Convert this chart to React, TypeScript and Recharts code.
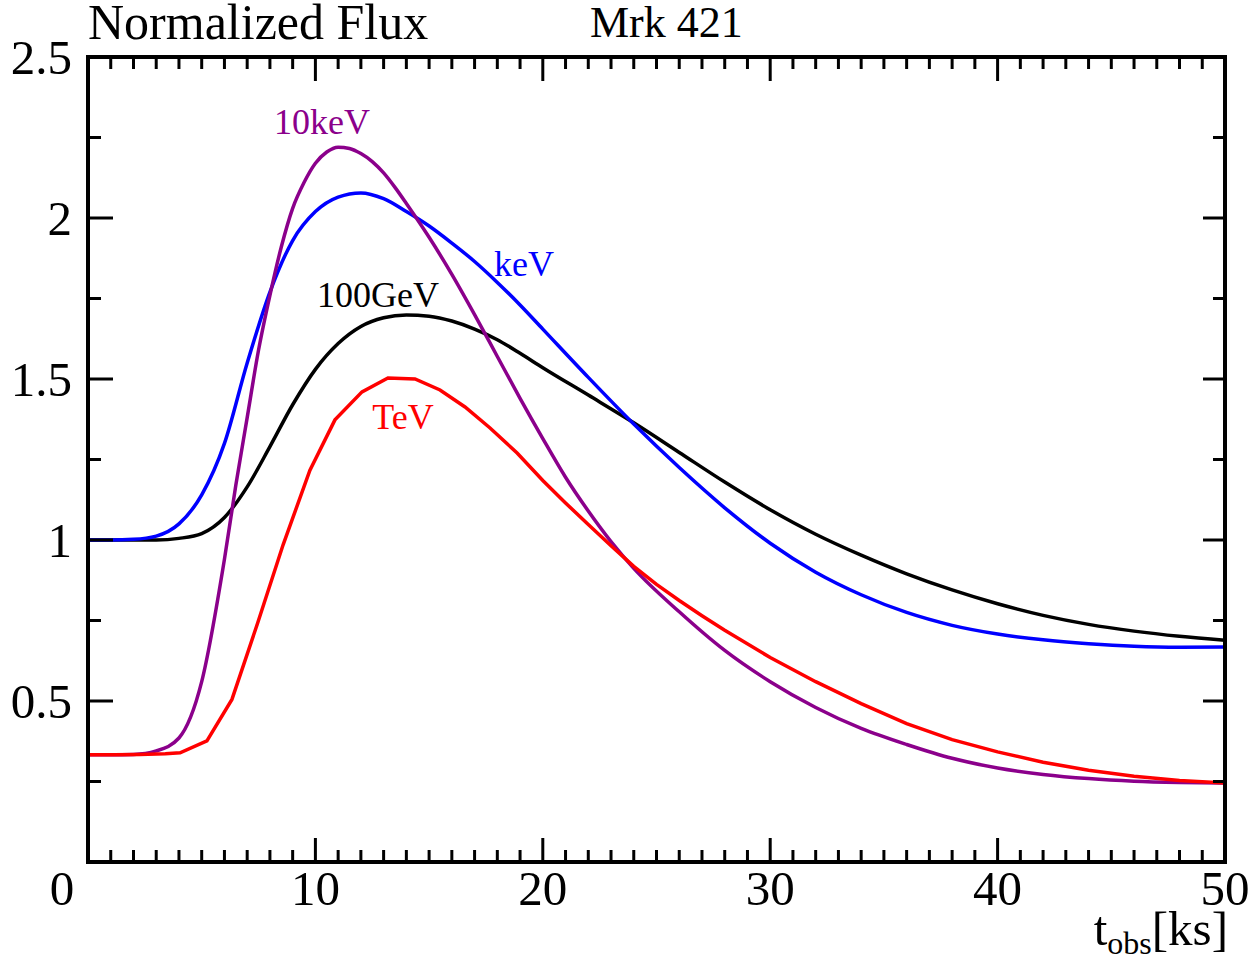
import React from 'react'
import { LineChart, Line, XAxis, YAxis, ReferenceDot } from 'recharts'

const W = 1258
const H = 959
const FONT = '"Liberation Serif", "Times New Roman", serif'

// keV (blue)
const tKeV = [0, 1, 2, 3, 4, 5, 6, 7, 8, 9, 10, 11, 12, 13, 14, 15, 16, 17, 18, 19, 20, 22, 24, 26, 28, 30, 32, 34, 36, 38, 40, 42, 44, 46, 48, 50]
const fKeV = [1.0, 1.0, 1.002, 1.012, 1.05, 1.14, 1.3, 1.55, 1.77, 1.93, 2.02, 2.065, 2.078, 2.06, 2.02, 1.975, 1.922, 1.865, 1.8, 1.73, 1.655, 1.505, 1.36, 1.225, 1.1, 0.99, 0.9, 0.83, 0.775, 0.735, 0.708, 0.69, 0.678, 0.67, 0.667, 0.668]

// 100GeV (black)
const tGeV = [0, 1, 2, 3, 4, 5, 6, 7, 8, 9, 10, 11, 12, 13, 14, 15, 16, 17, 18, 19, 20, 22, 24, 26, 28, 30, 32, 34, 36, 38, 40, 42, 44, 46, 48, 50]
const fGeV = [1.0, 1.0, 1.0, 1.0, 1.005, 1.02, 1.07, 1.165, 1.29, 1.42, 1.53, 1.61, 1.663, 1.69, 1.699, 1.695, 1.68, 1.655, 1.622, 1.58, 1.535, 1.45, 1.364, 1.272, 1.18, 1.094, 1.018, 0.953, 0.895, 0.845, 0.802, 0.766, 0.738, 0.717, 0.701, 0.689]

// 10keV (purple)
const t10keV = [0, 1, 2, 3, 4, 5, 6, 6.5, 7, 7.5, 8, 8.5, 9, 9.5, 10, 10.5, 11, 11.5, 12, 12.5, 13, 13.5, 14, 15, 16, 17, 18, 19, 20, 21, 22, 23, 24, 26, 28, 30, 32, 34, 36, 38, 40, 42, 44, 46, 48, 50]
const f10keV = [0.333, 0.333, 0.334, 0.345, 0.385, 0.56, 0.94, 1.17, 1.38, 1.59, 1.76, 1.91, 2.03, 2.11, 2.17, 2.205, 2.22, 2.216, 2.2, 2.175, 2.14, 2.095, 2.045, 1.94, 1.825, 1.7, 1.57, 1.44, 1.315, 1.195, 1.09, 0.995, 0.912, 0.777, 0.657, 0.56, 0.48, 0.415, 0.365, 0.322, 0.292, 0.272, 0.259, 0.251, 0.247, 0.245]

// TeV (red, coarse sampling)
const tTeV = [0, 1.13, 2.27, 3.4, 4.05, 5.23, 6.33, 7.45, 8.58, 9.76, 10.86, 12.05, 13.19, 14.38, 15.48, 16.58, 17.68, 18.87, 20, 21, 22, 23, 24, 25, 26, 27, 28, 30, 32, 34, 36, 38, 40, 42, 44, 46, 48, 50]
const fTeV = [0.333, 0.333, 0.334, 0.336, 0.339, 0.376, 0.505, 0.74, 0.985, 1.217, 1.373, 1.46, 1.503, 1.5, 1.466, 1.413, 1.348, 1.27, 1.185, 1.115, 1.048, 0.982, 0.918, 0.862, 0.812, 0.765, 0.72, 0.635, 0.56, 0.492, 0.43, 0.38, 0.342, 0.31, 0.285, 0.266, 0.253, 0.245]

const xTicks = Array.from({ length: 51 }, (_, i) => i)
const yTicks = Array.from({ length: 11 }, (_, i) => i * 0.25)

const zip = (t: number[], f: number[]) => t.map((v, i) => ({ t: v, f: f[i] }))

const isMajorX = (v: number) => v % 10 === 0
const isMajorY = (v: number) => Math.round(v * 4) % 2 === 0

const BottomTick = ({ x, y, payload }: any) => {
  const v = payload.value
  const major = isMajorX(v)
  return (
    <g>
      <line x1={x} x2={x} y1={y} y2={y - (major ? 24 : 12)} stroke="#000" strokeWidth={3} />
      {major && (
        <text x={v === 0 ? x - 26 : x} y={y + 43} textAnchor="middle" fontSize={49} fontFamily={FONT} fill="#000">
          {v}
        </text>
      )}
    </g>
  )
}

const TopTick = ({ x, y, payload }: any) => {
  const major = isMajorX(payload.value)
  return <line x1={x} x2={x} y1={y} y2={y + (major ? 24 : 12)} stroke="#000" strokeWidth={3} />
}

const LeftTick = ({ x, y, payload }: any) => {
  const v = payload.value
  const major = isMajorY(v)
  return (
    <g>
      <line x1={x} x2={x + (major ? 25 : 13)} y1={y} y2={y} stroke="#000" strokeWidth={3} />
      {major && v > 0 && (
        <text x={x - 16} y={y + 17} textAnchor="end" fontSize={49} fontFamily={FONT} fill="#000">
          {v}
        </text>
      )}
    </g>
  )
}

const RightTick = ({ x, y, payload }: any) => {
  const major = isMajorY(payload.value)
  return <line x1={x} x2={x - (major ? 22 : 12)} y1={y} y2={y} stroke="#000" strokeWidth={3} />
}

const frame = { stroke: '#000', strokeWidth: 4, strokeLinecap: 'square' as const }

const curveLabel = (value: string, fill: string) => ({
  value,
  position: 'center' as const,
  fill,
  fontSize: 36,
  fontFamily: FONT,
})

export default function App() {
  return (
    <div style={{ position: 'absolute', left: 0, top: 0, width: W, height: H, background: '#fff' }}>
      <LineChart width={W} height={H} margin={{ top: 56, right: 32, bottom: 96, left: 87 }}>
        <XAxis xAxisId="bottom" dataKey="t" type="number" domain={[0, 50]} allowDataOverflow ticks={xTicks}
          interval={0} height={1} tickSize={0} tickMargin={0} tickLine={false} axisLine={frame} tick={<BottomTick />} />
        <XAxis xAxisId="top" orientation="top" dataKey="t" type="number" domain={[0, 50]} allowDataOverflow ticks={xTicks}
          interval={0} height={1} tickSize={0} tickMargin={0} tickLine={false} axisLine={frame} tick={<TopTick />} />
        <YAxis yAxisId="left" type="number" domain={[0, 2.5]} allowDataOverflow ticks={yTicks}
          interval={0} width={1} tickSize={0} tickMargin={0} tickLine={false} axisLine={frame} tick={<LeftTick />} />
        <YAxis yAxisId="right" orientation="right" type="number" domain={[0, 2.5]} allowDataOverflow ticks={yTicks}
          interval={0} width={1} tickSize={0} tickMargin={0} tickLine={false} axisLine={frame} tick={<RightTick />} />

        <Line xAxisId="bottom" yAxisId="left" data={zip(tGeV, fGeV)} dataKey="f" type="monotone" stroke="#000000"
          strokeWidth={3.5} dot={false} isAnimationActive={false} />
        <Line xAxisId="bottom" yAxisId="left" data={zip(tKeV, fKeV)} dataKey="f" type="monotone" stroke="#0000ff"
          strokeWidth={3.5} dot={false} isAnimationActive={false} />
        <Line xAxisId="bottom" yAxisId="left" data={zip(t10keV, f10keV)} dataKey="f" type="monotone" stroke="#8b008b"
          strokeWidth={3.5} dot={false} isAnimationActive={false} />
        <Line xAxisId="bottom" yAxisId="left" data={zip(tTeV, fTeV)} dataKey="f" type="linear" stroke="#ff0000"
          strokeWidth={3.5} dot={false} isAnimationActive={false} />

        <ReferenceDot xAxisId="bottom" yAxisId="left" x={10.29} y={2.3} r={0} fill="none" stroke="none" label={curveLabel('10keV', '#8b008b')} />
        <ReferenceDot xAxisId="bottom" yAxisId="left" x={19.17} y={1.86} r={0} fill="none" stroke="none" label={curveLabel('keV', '#0000ff')} />
        <ReferenceDot xAxisId="bottom" yAxisId="left" x={12.75} y={1.764} r={0} fill="none" stroke="none" label={curveLabel('100GeV', '#000000')} />
        <ReferenceDot xAxisId="bottom" yAxisId="left" x={13.85} y={1.385} r={0} fill="none" stroke="none" label={curveLabel('TeV', '#ff0000')} />
      </LineChart>

      <svg width={W} height={H} style={{ position: 'absolute', left: 0, top: 0, pointerEvents: 'none' }}>
        <text x={88} y={39} fontSize={50} fontFamily={FONT} fill="#000">Normalized Flux</text>
        <text x={590} y={37} fontSize={44} fontFamily={FONT} fill="#000">Mrk 421</text>
        <text x={1228} y={945} textAnchor="end" fontSize={49} fontFamily={FONT} fill="#000">
          t<tspan fontSize={32} dy={9}>obs</tspan><tspan dy={-9}>[ks]</tspan>
        </text>
      </svg>
    </div>
  )
}
